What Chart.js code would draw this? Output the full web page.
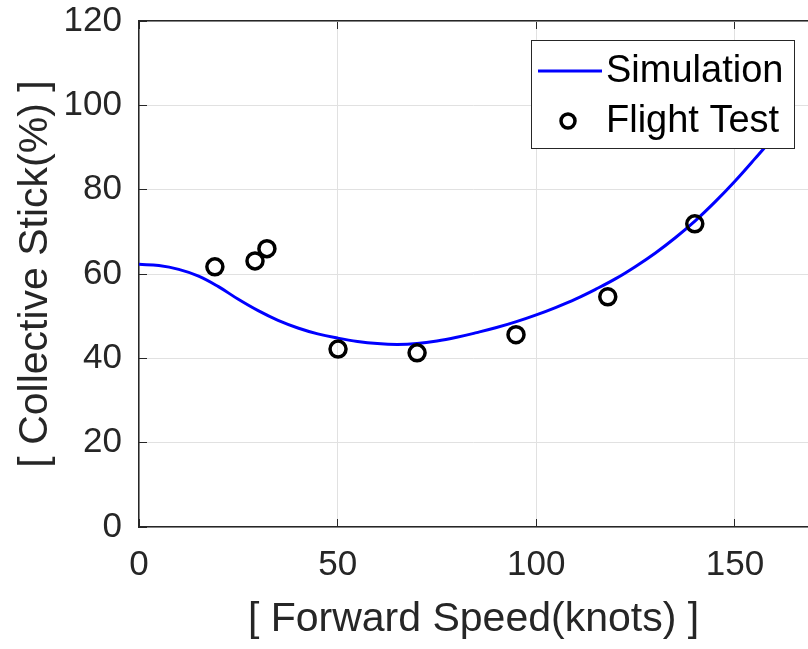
<!DOCTYPE html>
<html>
<head>
<meta charset="utf-8">
<script src="https://cdn.jsdelivr.net/npm/chart.js@4"></script>
<style>
    html, body { margin: 0; padding: 0; background: #fff; }
    canvas { display: block; }
</style>
</head>
<body>
<canvas id="stickChart" width="808" height="649"></canvas>
<script>
// Simulation curve (forward speed in knots, collective stick in %)
const simSpeed = [0, 5, 10, 15, 20, 25, 30, 35, 40, 45, 50, 55, 60, 65, 70, 75, 80, 85, 90,
    95, 100, 105, 110, 115, 120, 125, 130, 135, 140, 145, 150, 155, 160, 163];
const simStick = [62.3, 62.0, 61.1, 59.5, 57.0, 54.0, 51.3, 49.0, 47.2, 45.8, 44.8, 44.0, 43.5,
    43.3, 43.5, 44.1, 45.0, 46.1, 47.3, 48.7, 50.3, 52.1, 54.1, 56.4, 58.9, 61.8, 65.0, 68.6,
    72.6, 77.1, 82.0, 87.3, 92.8, 96.5];

// Flight test points
const testSpeed = [19.1, 29.2, 32.2, 50.1, 70.0, 94.9, 118.0, 139.9];
const testStick = [61.7, 63.1, 66.0, 42.2, 41.3, 45.6, 54.6, 71.9];

const xTicks = [0, 50, 100, 150];
const yTicks = [0, 20, 40, 60, 80, 100, 120];
const legendLabels = ['Simulation', 'Flight Test'];

const textColor = '#262626';
const gridColor = '#e1e1e1';
const fontFamily = '"Liberation Sans", Arial, Helvetica, sans-serif';

// Legend box drawn inside the plot, like the MATLAB one
const boxLegend = {
    id: 'boxLegend',
    afterDraw(chart) {
        const ctx = chart.ctx;
        ctx.save();
        ctx.fillStyle = '#fff';
        ctx.fillRect(531.5, 40.5, 263, 108);
        ctx.strokeStyle = textColor;
        ctx.lineWidth = 1;
        ctx.strokeRect(531.5, 40.5, 263, 108);

        ctx.strokeStyle = '#0000ff';
        ctx.lineWidth = 3;
        ctx.beginPath();
        ctx.moveTo(538, 71);
        ctx.lineTo(602, 71);
        ctx.stroke();

        ctx.strokeStyle = '#000';
        ctx.lineWidth = 3.5;
        ctx.beginPath();
        ctx.arc(568, 121, 7, 0, Math.PI * 2);
        ctx.stroke();

        ctx.fillStyle = '#000';
        ctx.font = '38px ' + fontFamily;
        ctx.textBaseline = 'middle';
        ctx.textAlign = 'left';
        ctx.fillText(legendLabels[0], 606, 72);
        ctx.fillText(legendLabels[1], 606, 122);
        ctx.restore();
    }
};

// keep the plot box fixed: no extra room for overhanging tick labels
function noHPad(axis, h) {
    axis.height = h;
    axis.paddingLeft = 0;
    axis.paddingRight = 0;
}

const ctx = document.getElementById('stickChart').getContext('2d');
const stickChart = new Chart(ctx, {
    type: 'scatter',
    data: {
        datasets: [{
            label: legendLabels[1],
            data: testSpeed.map((s, i) => ({ x: s, y: testStick[i] })),
            pointStyle: 'circle',
            pointRadius: 8,
            pointHoverRadius: 8,
            pointBorderWidth: 3.5,
            pointBorderColor: '#000',
            pointBackgroundColor: 'rgba(0,0,0,0)',
            showLine: false,
            order: 0
        }, {
            type: 'line',
            label: legendLabels[0],
            data: simSpeed.map((s, i) => ({ x: s, y: simStick[i] })),
            borderColor: '#0000ff',
            borderWidth: 3,
            pointRadius: 0,
            tension: 0.4,
            fill: false,
            order: 1
        }]
    },
    options: {
        responsive: false,
        animation: false,
        layout: { padding: 0, autoPadding: false },
        plugins: {
            legend: { display: false },
            tooltip: { enabled: false }
        },
        scales: {
            x: {
                type: 'linear',
                position: 'bottom',
                min: 0,
                max: 168.4,
                afterBuildTicks: (axis) => { axis.ticks = xTicks.map(v => ({ value: v })); },
                afterFit: (axis) => noHPad(axis, 122),
                grid: { color: gridColor, lineWidth: 1, drawTicks: true, tickLength: -8, tickColor: textColor },
                border: { color: textColor, width: 1.5 },
                ticks: { color: textColor, padding: 25, font: { family: fontFamily, size: 35 } },
                title: {
                    display: true,
                    text: '[ Forward Speed(knots) ]',
                    color: textColor,
                    font: { family: fontFamily, size: 41 },
                    padding: { top: 0, bottom: 5 }
                }
            },
            xTop: {
                type: 'linear',
                position: 'top',
                min: 0,
                max: 168.4,
                afterBuildTicks: (axis) => { axis.ticks = xTicks.map(v => ({ value: v })); },
                afterFit: (axis) => noHPad(axis, 21),
                grid: { drawOnChartArea: false, drawTicks: true, tickLength: -8, tickColor: textColor },
                border: { color: textColor, width: 1.5 },
                ticks: { display: false }
            },
            y: {
                type: 'linear',
                position: 'left',
                min: 0,
                max: 120,
                afterBuildTicks: (axis) => { axis.ticks = yTicks.map(v => ({ value: v })); },
                afterFit: (axis) => {
                    axis.width = 139;
                    axis.paddingTop = 0;
                    axis.paddingBottom = 0;
                },
                grid: { color: gridColor, lineWidth: 1, drawTicks: true, tickLength: -8, tickColor: textColor },
                border: { color: textColor, width: 1.5 },
                ticks: { color: textColor, padding: 25, font: { family: fontFamily, size: 35 } },
                title: {
                    display: true,
                    text: '[ Collective Stick(%) ]',
                    color: textColor,
                    font: { family: fontFamily, size: 41 },
                    padding: { top: 11, bottom: 0 }
                }
            }
        }
    },
    plugins: [boxLegend]
});
</script>
</body>
</html>
